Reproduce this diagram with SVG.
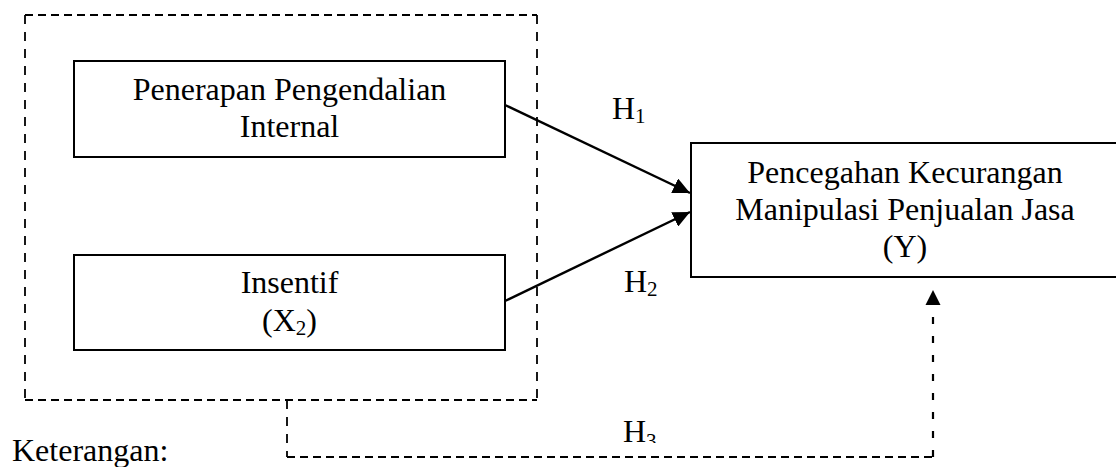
<svg xmlns="http://www.w3.org/2000/svg" width="1116" height="467" viewBox="0 0 1116 467">
<style>
text{font-family:"Liberation Serif","Times New Roman",serif;font-size:32px;fill:#000}
.box{fill:#fff;stroke:#000;stroke-width:2}
.dh{fill:none;stroke:#000;stroke-width:1.8;stroke-dasharray:8 5}
.dv{fill:none;stroke:#000;stroke-width:1.8;stroke-dasharray:9 8}
.dv2{fill:none;stroke:#000;stroke-width:2.2;stroke-dasharray:7 12}
.arr{fill:none;stroke:#000;stroke-width:2.4}
.sub{font-size:21px}
</style>
<defs>
<marker id="ah" markerUnits="userSpaceOnUse" markerWidth="19" markerHeight="16" refX="17" refY="8" orient="auto">
<path d="M0,0 L17,8 L0,16 z" fill="#000"/>
</marker>
<clipPath id="clipH3"><rect x="600" y="400" width="100" height="43"/></clipPath>
</defs>
<g id="group-x">
<line class="dh" x1="25" y1="15" x2="537" y2="15"/>
<line class="dh" x1="25" y1="400" x2="537" y2="400"/>
<line class="dv" x1="25" y1="15" x2="25" y2="400"/>
<line class="dv" x1="537" y1="15" x2="537" y2="400"/>
</g>
<g id="node-x1">
<rect class="box" x="74" y="61" width="431" height="96"/>
<text x="289.5" y="100" text-anchor="middle">Penerapan Pengendalian</text>
<text x="289.5" y="137" text-anchor="middle">Internal</text>
</g>
<g id="node-x2">
<rect class="box" x="74" y="255" width="431" height="95"/>
<text x="289.5" y="293" text-anchor="middle">Insentif</text>
<text x="289.5" y="331" text-anchor="middle">(X<tspan class="sub" dy="4">2</tspan><tspan dy="-4">)</tspan></text>
</g>
<g id="node-y">
<rect class="box" x="691" y="143" width="440" height="134"/>
<text x="905" y="183" text-anchor="middle">Pencegahan Kecurangan</text>
<text x="905" y="220" text-anchor="middle">Manipulasi Penjualan Jasa</text>
<text x="905" y="257" text-anchor="middle">(Y)</text>
</g>
<g id="connectors">
<line class="arr" x1="505" y1="105" x2="690" y2="193" marker-end="url(#ah)"/>
<line class="arr" x1="505" y1="301" x2="690" y2="212" marker-end="url(#ah)"/>
<line class="dv" x1="287" y1="400" x2="287" y2="457"/>
<line class="dh" x1="287" y1="457" x2="933" y2="457"/>
<line class="dv2" x1="933" y1="457" x2="933" y2="300"/>
<path d="M925.5,305 L933,290 L940.5,305 z" fill="#000"/>
</g>
<g id="labels">
<text x="612" y="119">H<tspan class="sub" dy="4">1</tspan></text>
<text x="624" y="292">H<tspan class="sub" dy="4">2</tspan></text>
<text x="623" y="442" clip-path="url(#clipH3)">H<tspan class="sub" dy="6">3</tspan></text>
<text x="12" y="461">Keterangan:</text>
</g>
</svg>
